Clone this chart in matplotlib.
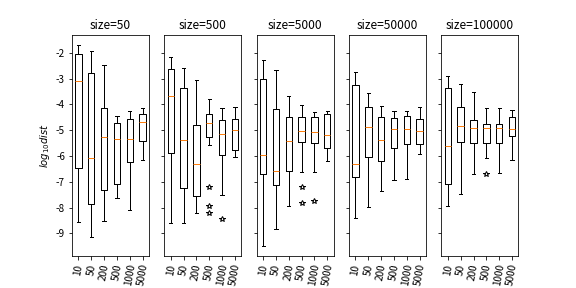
import matplotlib
matplotlib.use("Agg")
import matplotlib.pyplot as plt

plt.rcParams['font.family'] = ['Noto Sans CJK SC', 'DejaVu Sans']
plt.rcParams['axes.unicode_minus'] = False

sizes = [50, 500, 5000, 50000, 100000]
labels = ['10', '50', '200', '500', '1000', '5000']

# per panel: one value per box (10, 50, 200, 500, 1000, 5000), log10 scale
whislo = [
    [-8.56, -9.15, -8.52, -7.61, -8.08, -6.17],
    [-8.60, -8.60, -8.21, -5.59, -7.53, -6.03],
    [-9.50, -8.84, -7.93, -6.62, -6.62, -6.21],
    [-8.41, -7.97, -7.34, -6.94, -6.90, -5.91],
    [-7.93, -7.46, -6.70, -6.07, -6.66, -6.15],
]
q1 = [
    [-6.46, -7.85, -7.32, -7.08, -6.25, -5.43],
    [-5.87, -7.26, -7.57, -5.28, -5.95, -5.75],
    [-6.70, -7.14, -6.57, -5.47, -5.51, -5.67],
    [-6.82, -6.03, -6.19, -5.67, -5.55, -5.55],
    [-7.10, -5.47, -5.51, -5.51, -5.51, -5.24],
]
med = [
    [-3.10, -6.07, -5.28, -5.35, -5.35, -4.68],
    [-3.69, -5.39, -6.31, -4.72, -5.14, -5.00],
    [-5.95, -6.57, -5.42, -5.04, -5.08, -5.20],
    [-6.31, -4.88, -5.39, -4.96, -4.96, -5.04],
    [-5.63, -4.84, -4.92, -4.92, -4.92, -4.96],
]
q3 = [
    [-2.03, -2.79, -4.14, -4.72, -4.56, -4.36],
    [-2.63, -3.37, -4.81, -4.36, -4.60, -4.56],
    [-3.03, -4.17, -4.48, -4.48, -4.48, -4.36],
    [-3.24, -4.09, -4.48, -4.52, -4.44, -4.56],
    [-3.37, -4.09, -4.60, -4.76, -4.76, -4.48],
]
whishi = [
    [-1.68, -1.92, -2.46, -4.46, -4.27, -4.14],
    [-2.15, -2.58, -3.06, -3.77, -4.13, -4.10],
    [-2.26, -2.66, -3.69, -4.01, -4.29, -4.25],
    [-2.74, -3.57, -4.05, -4.25, -4.25, -4.09],
    [-2.90, -3.22, -3.53, -4.13, -4.13, -4.21],
]
fliers = [
    [[], [], [], [], [], []],
    [[], [], [], [-7.19, -7.94, -8.23], [-8.43], []],
    [[], [], [], [-7.20, -7.84], [-7.76], []],
    [[], [], [], [], [], []],
    [[], [], [], [-6.70], [], []],
]

fig, axes = plt.subplots(1, 5, figsize=(8, 4), dpi=72, sharey=True)

for i, ax in enumerate(axes):
    stats = []
    for j, lab in enumerate(labels):
        stats.append({
            'label': lab,
            'whislo': whislo[i][j], 'q1': q1[i][j], 'med': med[i][j],
            'q3': q3[i][j], 'whishi': whishi[i][j], 'fliers': fliers[i][j],
        })
    ax.bxp(stats, showfliers=True,
           flierprops=dict(marker='*', markerfacecolor='white',
                           markeredgecolor='black', markersize=6))
    ax.set_title('size=%d' % sizes[i])
    ax.tick_params(axis='x', labelrotation=80)
    for t in ax.get_xticklabels():
        t.set_style('italic')

axes[0].set_ylabel('$log_{10}dist$')

fig.savefig('out.png', dpi=72)
